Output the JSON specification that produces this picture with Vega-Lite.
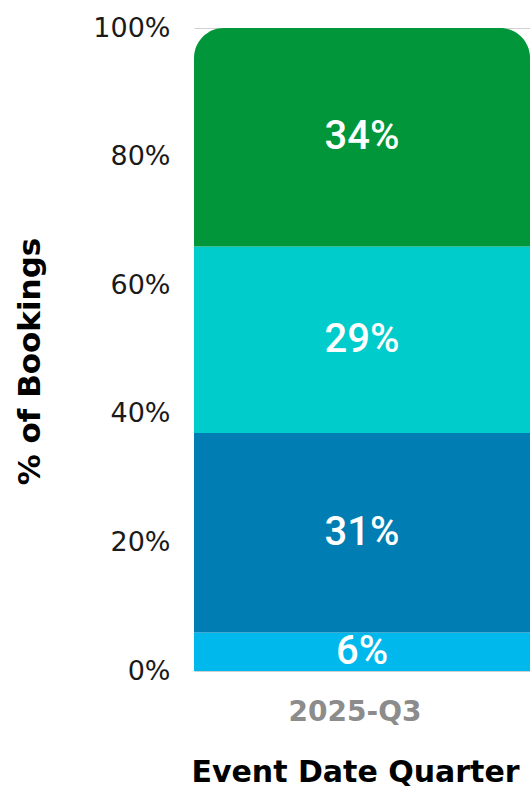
{
  "$schema": "https://vega.github.io/schema/vega-lite/v6.json",
  "autosize": "none",
  "width": 336,
  "height": 643,
  "padding": {"left": 194, "top": 28, "right": 0, "bottom": 117},
  "background": "white",
  "config": {"view": {"stroke": null}},
  "data": {
    "values": [
      {"quarter": "2025-Q3", "segment": "S1", "rank": 1, "pct": 6},
      {"quarter": "2025-Q3", "segment": "S2", "rank": 2, "pct": 31},
      {"quarter": "2025-Q3", "segment": "S3", "rank": 3, "pct": 29},
      {"quarter": "2025-Q3", "segment": "S4", "rank": 4, "pct": 34}
    ]
  },
  "transform": [
    {"stack": "pct", "groupby": ["quarter"], "sort": [{"field": "rank", "order": "ascending"}], "offset": "normalize", "as": ["y0", "y1"]},
    {"calculate": "(datum.y0 + datum.y1) / 2", "as": "ymid"},
    {"calculate": "datum.pct + '%'", "as": "label"}
  ],
  "encoding": {
    "x": {
      "field": "quarter", "type": "nominal",
      "scale": {"paddingInner": 0, "paddingOuter": 0},
      "axis": {
        "labelAngle": 0, "domain": false, "ticks": false,
        "labelFont": "DejaVu Sans", "labelFontSize": 28, "labelFontWeight": "bold", "labelColor": "#8c8c8c",
        "labelPadding": 27, "labelOffset": -7,
        "title": "Event Date Quarter", "titleFont": "DejaVu Sans", "titleFontSize": 30, "titleFontWeight": "bold", "titleColor": "#000000",
        "titlePadding": 31, "titleX": 161
      }
    }
  },
  "layer": [
    {
      "transform": [{"filter": "datum.rank < 4"}],
      "mark": {"type": "bar"},
      "encoding": {
        "y": {"field": "y0", "type": "quantitative", "scale": {"domain": [0, 1]},
          "axis": {
            "format": "%", "values": [0, 0.2, 0.4, 0.6, 0.8, 1],
            "domain": false, "ticks": false, "grid": true, "gridColor": "#d0d0d0", "gridWidth": 1,
            "labelFont": "DejaVu Sans", "labelFontSize": 27, "labelFontWeight": "normal", "labelColor": "#1a1a1a", "labelPadding": 24,
            "title": "% of  Bookings", "titleFont": "DejaVu Sans", "titleFontSize": 31, "titleFontWeight": "bold", "titleColor": "#000000",
            "titlePadding": 46, "titleY": 333
          }
        },
        "y2": {"field": "y1"},
        "color": {"field": "segment", "type": "nominal", "legend": null,
          "scale": {"domain": ["S1", "S2", "S3", "S4"], "range": ["#00b8eb", "#007db2", "#00cccb", "#009639"]}}
      }
    },
    {
      "transform": [{"filter": "datum.rank == 4"}],
      "mark": {"type": "bar", "cornerRadiusTopLeft": 30, "cornerRadiusTopRight": 30},
      "encoding": {
        "y": {"field": "y0", "type": "quantitative"},
        "y2": {"field": "y1"},
        "color": {"field": "segment", "type": "nominal", "legend": null}
      }
    },
    {
      "mark": {"type": "text", "font": "Roboto", "fontSize": 40, "fontWeight": 500, "color": "white", "baseline": "middle", "align": "center"},
      "encoding": {
        "y": {"field": "ymid", "type": "quantitative"},
        "text": {"field": "label"}
      }
    }
  ]
}
